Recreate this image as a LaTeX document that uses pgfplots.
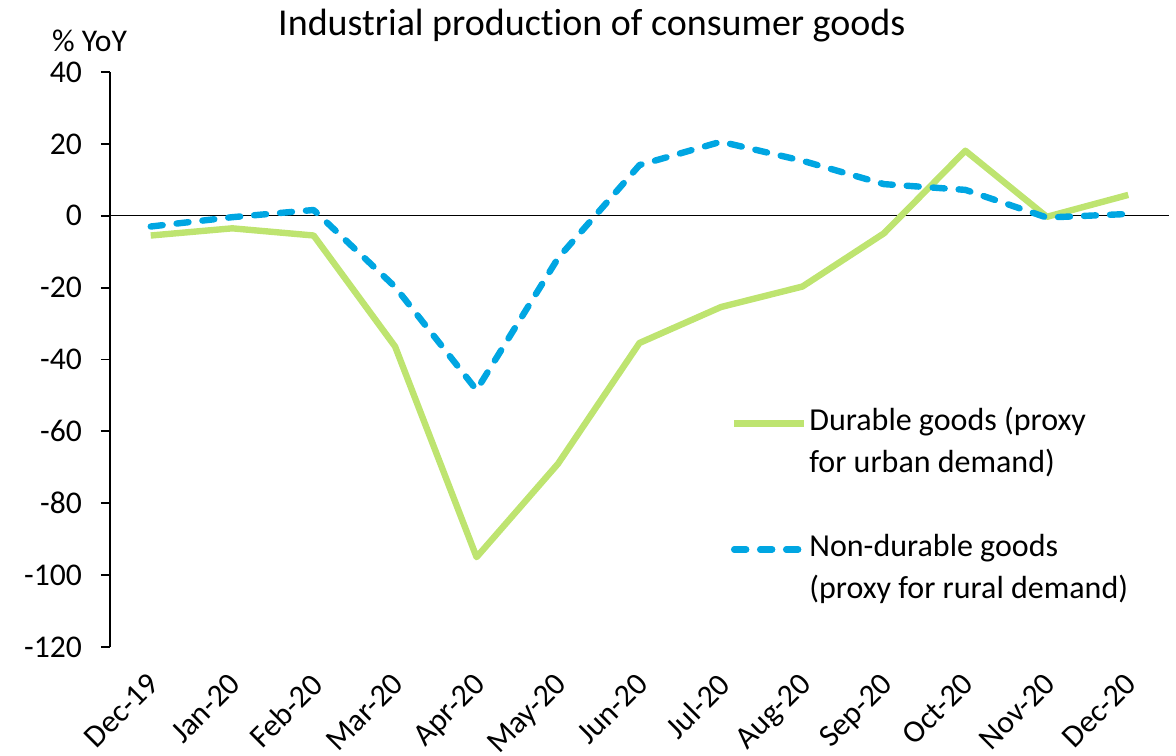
\documentclass[border=0pt]{standalone}
\usepackage{pgfplots}
\pgfplotsset{compat=1.18}
\usepackage{pgfplotstable}
\usepackage{fontspec}
\setmainfont{Carlito}[Ligatures=NoCommon]
\definecolor{durgreen}{RGB}{190,228,112}
\definecolor{ndblue}{RGB}{0,166,226}
\pgfplotstableread{
x dur nondur
0 -5.5 -3.0
1 -3.5 -0.4
2 -5.5 1.6
3 -36.4 -19.8
4 -95.0 -48.5
5 -69.0 -11.8
6 -35.4 14.1
7 -25.4 20.6
8 -19.7 15.3
9 -4.9 8.8
10 18.1 7.2
11 -0.3 -0.5
12 5.8 0.5
}\datatable
\begin{document}
\begin{tikzpicture}
\begin{axis}[
  scale only axis, width=529.5pt, height=287.5pt,
  xmin=-0.5, xmax=12.5, ymin=-120, ymax=40,
  ytick={-120,-100,...,40},
  xtick={0,...,12},
  xticklabels={Dec-19,Jan-20,Feb-20,Mar-20,Apr-20,May-20,Jun-20,Jul-20,Aug-20,Sep-20,Oct-20,Nov-20,Dec-20},
  axis x line*=bottom, axis y line*=left,
  x axis line style={draw=none},
  y axis line style={-, line width=0.9pt},
  xtick style={draw=none},
  ytick style={line width=0.9pt, black},
  tick align=outside, major tick length=4.5pt,
  /pgf/number format/assume math mode=true,
  tick label style={font=\fontsize{15.8}{19}\selectfont},
  yticklabel style={xshift=-6pt},
  xticklabel style={xshift=-2.3pt, yshift=-2.7pt, rotate=45, anchor=north east},
  title={Industrial production of consumer goods},
  title style={font=\fontsize{19}{23}\selectfont, at={(0.455,1)}, anchor=base, yshift=12pt},
  legend image code/.code={\draw[#1] (0pt,0pt) -- (35pt,0pt);},
  legend cell align=left,
  legend style={draw=none, fill=none, at={(0.586,0.426)}, anchor=north west,
    inner sep=0pt, row sep=0pt, column sep=1pt,
    font=\fontsize{16}{19}\selectfont,
    nodes={text height=14pt, text depth=7pt, inner sep=0pt}},
]
\addplot[black, line width=0.75pt, forget plot] coordinates {(-0.5,0) (12.5,0)};
\addplot[durgreen, line width=3.2pt, line join=round] table[x=x, y=dur] {\datatable};
\addlegendentry{Durable goods (proxy}
\addlegendimage{empty legend}
\addlegendentry{for urban demand)}
\addlegendimage{empty legend}
\addlegendentry{}
\addplot[ndblue, line width=3.2pt, line join=round, line cap=round, dash pattern=on 6pt off 7pt] table[x=x, y=nondur] {\datatable};
\addlegendentry{Non-durable goods}
\addlegendimage{empty legend}
\addlegendentry{(proxy for rural demand)}
\end{axis}
\node[anchor=base west, font=\fontsize{15.8}{19}\selectfont] at ([xshift=-32.5pt, yshift=10pt]current axis.north west) {\% YoY};
\pgfresetboundingbox
\path[use as bounding box] (current axis.south west) ++(-55pt,-54pt) rectangle ++(588pt,377.5pt);
\end{tikzpicture}
\end{document}
